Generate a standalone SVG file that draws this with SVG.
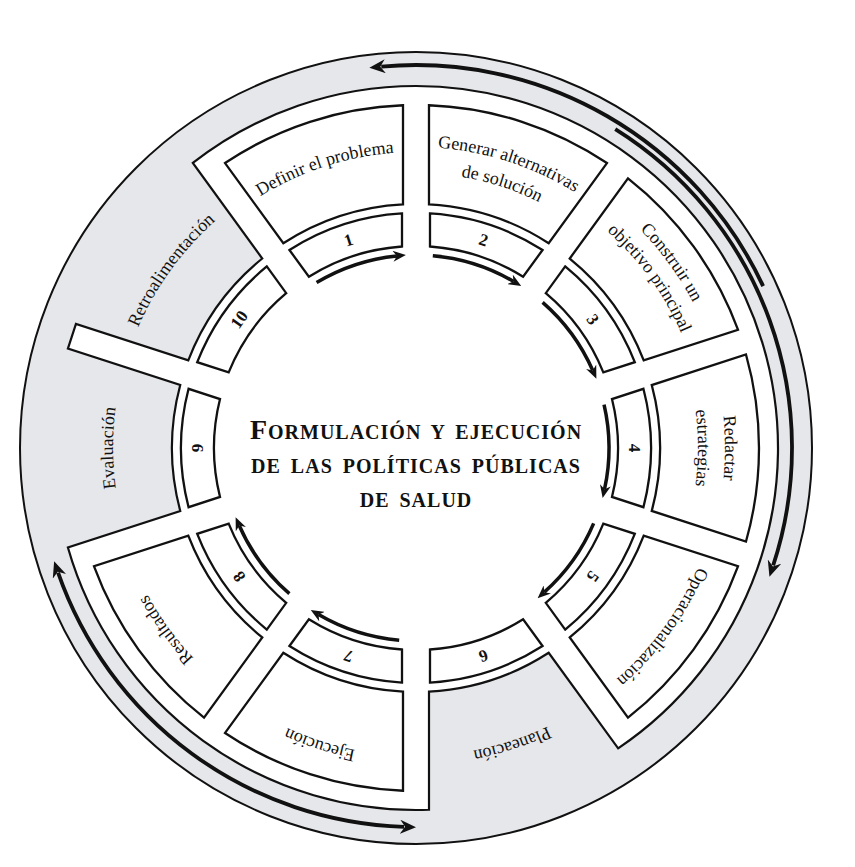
<svg xmlns="http://www.w3.org/2000/svg" width="855" height="867" viewBox="0 0 855 867">
<style>
.bx{fill:#fff;stroke:#111;stroke-width:2.3}
.lbl{font-family:"Liberation Serif","Times New Roman",serif;font-size:18px;fill:#111;text-anchor:middle}
.num{font-family:"Liberation Serif","Times New Roman",serif;font-size:17px;font-weight:bold;fill:#111;text-anchor:middle}
.arr{fill:none;stroke:#111;stroke-width:3.5}
.oarr{fill:none;stroke:#111;stroke-width:3.8}
.title{font-family:"Liberation Serif","Times New Roman",serif;font-weight:bold;font-size:20px;fill:#111;text-anchor:middle;letter-spacing:1px;word-spacing:4px}
</style>
<defs>
<path id="lbox" d="M -93.56 -329.99 A 343 343 0 0 1 93.56 -329.99 L 62.93 -235.75 A 244 244 0 0 0 -62.93 -235.75 Z"/>
<path id="nbox" d="M -59.18 -227.43 A 235 235 0 0 1 59.18 -227.43 L 48.96 -195.98 A 202 202 0 0 0 -48.96 -195.98 Z"/>
<path id="t275" d="M -238.16 -137.5 A 275 275 0 0 1 238.16 -137.5"/>
<path id="t282" d="M -244.22 -141 A 282 282 0 0 1 244.22 -141"/>
<path id="t289" d="M -250.28 -144.5 A 289 289 0 0 1 250.28 -144.5"/>
<path id="t296" d="M -256.34 -148 A 296 296 0 0 1 256.34 -148"/>
<path id="t301" d="M -260.67 -150.5 A 301 301 0 0 1 260.67 -150.5"/>
<path id="t303" d="M -262.41 -151.5 A 303 303 0 0 1 262.41 -151.5"/>
<path id="t306" d="M -265 -153 A 306 306 0 0 1 265 -153"/>
<path id="t308" d="M -266.74 -154 A 308 308 0 0 1 266.74 -154"/>
<path id="t309" d="M -267.6 -154.5 A 309 309 0 0 1 267.6 -154.5"/>
<path id="t313" d="M -271.07 -156.5 A 313 313 0 0 1 271.07 -156.5"/>
<marker id="ah" viewBox="0 0 13 11" markerUnits="userSpaceOnUse" markerWidth="13" markerHeight="11" refX="4" refY="5.5" orient="auto-start-reverse">
<path d="M0,0 L13,5.5 L0,11 L4,5.5 Z" fill="#111"/>
</marker>
<marker id="oah" viewBox="0 0 16 14" markerUnits="userSpaceOnUse" markerWidth="16" markerHeight="14" refX="4" refY="7" orient="auto-start-reverse">
<path d="M0,0 L16,7 L0,14 L5,7 Z" fill="#111"/>
</marker>
</defs>

<g id="background">
<circle cx="416" cy="448" r="396" fill="#e6e7ea" stroke="#111" stroke-width="2"/>
<path d="M 192.83 162.96 A 362 362 0 0 1 416 86 A 362 362 0 0 1 618.13 748.32 L 548.69 652.76 A 244 244 0 0 1 429 691.65 L 429 809.77 A 362 362 0 0 1 67.91 547.44 L 180.25 510.93 A 244 244 0 0 1 180.25 385.07 L 67.91 348.56 L 75.95 323.84 L 188.29 360.35 A 244 244 0 0 1 262.27 258.52 Z" fill="#fff" stroke="#111" stroke-width="2.2"/>
</g>

<g id="node-1" transform="translate(416 448) rotate(-18)">
<use href="#lbox" class="bx"/><use href="#nbox" class="bx"/>
<text class="num" x="0" y="-213">1</text>
<text class="lbl"><textPath href="#t296" startOffset="50%">Definir el problema</textPath></text>
</g>
<g id="node-2" transform="translate(416 448) rotate(18)">
<use href="#lbox" class="bx"/><use href="#nbox" class="bx"/>
<text class="num" x="0" y="-213">2</text>
<text class="lbl"><textPath href="#t301" startOffset="50%">Generar alternativas</textPath></text>
<text class="lbl"><textPath href="#t275" startOffset="50%">de solución</textPath></text>
</g>
<g id="node-3" transform="translate(416 448) rotate(54)">
<use href="#lbox" class="bx"/><use href="#nbox" class="bx"/>
<text class="num" x="0" y="-213">3</text>
<text class="lbl"><textPath href="#t313" startOffset="50%">Construir un</textPath></text>
<text class="lbl"><textPath href="#t289" startOffset="50%">objetivo principal</textPath></text>
</g>
<g id="node-4" transform="translate(416 448) rotate(90)">
<use href="#lbox" class="bx"/><use href="#nbox" class="bx"/>
<text class="num" x="0" y="-213">4</text>
<text class="lbl"><textPath href="#t309" startOffset="50%">Redactar</textPath></text>
<text class="lbl"><textPath href="#t282" startOffset="50%">estrategias</textPath></text>
</g>
<g id="node-5" transform="translate(416 448) rotate(126)">
<use href="#lbox" class="bx"/><use href="#nbox" class="bx"/>
<text class="num" x="0" y="-213">5</text>
<text class="lbl"><textPath href="#t306" startOffset="50%">Operacionalización</textPath></text>
</g>
<g id="node-6" transform="translate(416 448) rotate(162)">
<use href="#nbox" class="bx"/>
<text class="num" x="0" y="-213">6</text>
<text class="lbl"><textPath href="#t308" startOffset="50%">Planeación</textPath></text>
</g>
<g id="node-7" transform="translate(416 448) rotate(198)">
<use href="#lbox" class="bx"/><use href="#nbox" class="bx"/>
<text class="num" x="0" y="-213">7</text>
<text class="lbl"><textPath href="#t308" startOffset="50%">Ejecución</textPath></text>
</g>
<g id="node-8" transform="translate(416 448) rotate(234)">
<use href="#lbox" class="bx"/><use href="#nbox" class="bx"/>
<text class="num" x="0" y="-213">8</text>
<text class="lbl"><textPath href="#t306" startOffset="50%">Resultados</textPath></text>
</g>
<g id="node-9" transform="translate(416 448) rotate(270)">
<use href="#nbox" class="bx"/>
<text class="num" x="0" y="-213">9</text>
<text class="lbl"><textPath href="#t303" startOffset="50%">Evaluación</textPath></text>
</g>
<g id="node-10" transform="translate(416 448) rotate(306)">
<use href="#nbox" class="bx"/>
<text class="num" x="0" y="-213">10</text>
<text class="lbl"><textPath href="#t303" startOffset="50%">Retroalimentación</textPath></text>
</g>

<g id="connectors">
<path class="arr" marker-end="url(#ah)" transform="translate(416 448) rotate(-18)" d="M -43.42 -188.05 A 193 193 0 0 1 41.22 -188.55"/>
<path class="arr" marker-end="url(#ah)" transform="translate(416 448) rotate(18)" d="M -43.42 -188.05 A 193 193 0 0 1 41.22 -188.55"/>
<path class="arr" marker-end="url(#ah)" transform="translate(416 448) rotate(54)" d="M -43.42 -188.05 A 193 193 0 0 1 41.22 -188.55"/>
<path class="arr" marker-end="url(#ah)" transform="translate(416 448) rotate(90)" d="M -43.42 -188.05 A 193 193 0 0 1 41.22 -188.55"/>
<path class="arr" marker-end="url(#ah)" transform="translate(416 448) rotate(126)" d="M -43.42 -188.05 A 193 193 0 0 1 41.22 -188.55"/>
<path class="arr" marker-end="url(#ah)" transform="translate(416 448) rotate(198)" d="M -43.42 -188.05 A 193 193 0 0 1 41.22 -188.55"/>
<path class="arr" marker-end="url(#ah)" transform="translate(416 448) rotate(234)" d="M -43.42 -188.05 A 193 193 0 0 1 41.22 -188.55"/>
<path class="oarr" marker-end="url(#oah)" d="M 763.12 286.14 A 383 383 0 0 0 381.29 66.58"/>
<path class="oarr" marker-end="url(#oah)" d="M 615.25 129.13 A 376 376 0 0 1 773.19 565.44"/>
<path class="oarr" marker-start="url(#oah)" marker-end="url(#oah)" d="M 58.08 572.64 A 379 379 0 0 0 404.10 826.81"/>
</g>

<g id="title">
<text class="title" x="416" y="439"><tspan font-size="28">F</tspan>ORMULACIÓN Y EJECUCIÓN</text>
<text class="title" x="416" y="473" word-spacing="6">DE LAS POLÍTICAS PÚBLICAS</text>
<text class="title" x="416" y="507">DE SALUD</text>
</g>
</svg>
